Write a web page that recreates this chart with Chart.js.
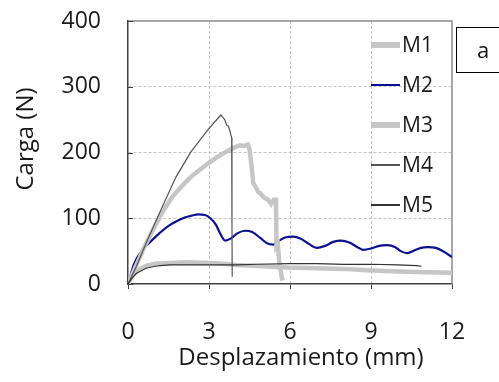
<!DOCTYPE html>
<html>
<head>
<meta charset="utf-8">
<script src="https://cdn.jsdelivr.net/npm/chart.js@4.4.1/dist/chart.umd.min.js"></script>
<style>
  body { margin: 0; background: #fff; }
  #wrap { position: relative; width: 499px; height: 382px; overflow: hidden; }
  #tag {
    position: absolute; left: 456px; top: 27px; width: 60px; height: 46px;
    border: 1px solid #000; box-sizing: border-box;
    font: 22px 'Open Sans'; color: #111; line-height: 42px; padding-left: 20px;
  }
</style>
</head>
<body>
<div id="wrap">
  <canvas id="chart" width="499" height="382"></canvas>
  <div id="tag">a</div>
</div>
<script>
// datos
const seriesNames = ['M1', 'M2', 'M3', 'M4', 'M5'];
const xTicks = [0, 3, 6, 9, 12];
const yTicks = [0, 100, 200, 300, 400];

const m1X = [0, 0.1, 0.2, 0.4, 0.69, 1.0, 1.56, 2.17, 3.0, 3.4, 4.0, 5.0, 5.9, 7.0, 8.0, 8.84, 10.0, 11.0, 12.0];
const m1Y = [0, 8, 14, 22, 28, 31, 32, 33, 32, 31, 29, 27, 25, 24, 23, 21, 19, 18, 17];

const m2X = [0, 0.23, 0.54, 0.8, 1.16, 1.45, 1.78, 2.1, 2.36, 2.6, 2.85, 3.05, 3.26, 3.4, 3.6, 3.8, 4.05, 4.33, 4.6, 4.9, 5.15, 5.38, 5.6, 5.85, 6.1, 6.4, 6.7, 6.99, 7.3, 7.6, 7.9, 8.2, 8.5, 8.7, 9.0, 9.3, 9.6, 9.9, 10.1, 10.35, 10.6, 10.85, 11.1, 11.4, 11.7, 12.0];
const m2Y = [0, 31, 52, 63, 77, 87, 95, 101, 104, 106, 105, 100, 90, 78, 66, 69, 77, 81, 79, 70, 62, 60, 66, 71, 72, 69, 61, 55, 58, 64, 66, 63, 56, 52, 54, 58, 59, 56, 50, 47, 51, 55, 56, 55, 49, 41];

const m3X = [0, 0.3, 0.6, 1.0, 1.28, 1.65, 2.0, 2.33, 2.7, 2.98, 3.3, 3.63, 3.9, 4.15, 4.3, 4.44, 4.5, 4.58, 4.64, 4.7, 4.82, 4.9, 5.0, 5.1, 5.19, 5.3, 5.4, 5.48, 5.5, 5.55, 5.6, 5.69, 5.73];
const m3Y = [0, 28, 56, 88, 110, 133, 149, 163, 175, 184, 193, 201, 207, 211, 210, 212, 205, 178, 153, 150, 140, 138, 133, 130, 128, 122, 128, 128, 57, 60, 35, 11, 5];

const m4X = [0, 0.3, 0.67, 1.22, 1.78, 2.33, 2.95, 3.2, 3.44, 3.52, 3.58, 3.65, 3.72, 3.78, 3.84, 3.85, 3.86];
const m4Y = [0, 26, 62, 113, 163, 201, 234, 246, 257, 253, 250, 242, 240, 232, 222, 100, 11];

const m5X = [0, 0.15, 0.3, 0.67, 1.0, 1.2, 1.56, 2.0, 3.0, 4.0, 4.8, 6.0, 7.0, 8.0, 9.0, 10.0, 10.69, 10.87];
const m5Y = [0, 9, 16, 24, 27, 28, 29, 29, 29, 29, 30, 31, 31, 30, 30, 29, 28, 27];

const pts = (xs, ys) => xs.map((x, i) => ({ x: x, y: ys[i] }));

const FONT = "'Open Sans', sans-serif";

// marco superior/derecho, marcas del eje y, titulos y leyenda
const extras = {
  id: 'extras',
  beforeDatasetsDraw(chart) {
    const { ctx, chartArea: a } = chart;
    ctx.save();
    ctx.strokeStyle = '#8a8a8a';
    ctx.lineWidth = 1.5;
    ctx.beginPath();
    ctx.moveTo(a.left, a.top);
    ctx.lineTo(a.right, a.top);
    ctx.lineTo(a.right, a.bottom);
    ctx.stroke();
    const ys = chart.scales.y;
    ctx.strokeStyle = '#404040';
    ctx.lineWidth = 1;
    yTicks.forEach(v => {
      const py = Math.round(ys.getPixelForValue(v)) + 0.5;
      ctx.beginPath();
      ctx.moveTo(a.left, py);
      ctx.lineTo(a.left + 5, py);
      ctx.stroke();
    });
    ctx.restore();
  },
  afterDatasetsDraw(chart) {
    const { ctx, chartArea: a } = chart;
    ctx.save();
    ctx.fillStyle = '#1a1a1a';
    ctx.font = '24px ' + FONT;
    ctx.textAlign = 'center';
    ctx.textBaseline = 'middle';
    ctx.fillText('Desplazamiento (mm)', a.left + 173, 358);

    ctx.save();
    ctx.translate(26, a.top + 118);
    ctx.rotate(-Math.PI / 2);
    ctx.fillText('Carga (N)', 0, 0);
    ctx.restore();

    ctx.font = '21px ' + FONT;
    ctx.textAlign = 'left';
    chart.data.datasets.forEach((ds, i) => {
      const y = a.top + 24 + i * 40;
      ctx.strokeStyle = ds.borderColor;
      ctx.lineWidth = ds.legendWidth;
      ctx.beginPath();
      ctx.moveTo(a.right - 81, y);
      ctx.lineTo(a.right - 52, y);
      ctx.stroke();
      ctx.fillText(ds.label, a.right - 50, y + 1);
    });
    ctx.restore();
  }
};

new Chart(document.getElementById('chart'), {
  type: 'scatter',
  data: {
    datasets: [
      { label: seriesNames[0], data: pts(m1X, m1Y), borderColor: '#c6c6c6', borderWidth: 4.5, legendWidth: 6, order: 4 },
      { label: seriesNames[1], data: pts(m2X, m2Y), borderColor: '#0c1190', borderWidth: 2.2, legendWidth: 2, cubicInterpolationMode: 'monotone', order: 5 },
      { label: seriesNames[2], data: pts(m3X, m3Y), borderColor: '#c6c6c6', borderWidth: 4.5, legendWidth: 6, order: 3 },
      { label: seriesNames[3], data: pts(m4X, m4Y), borderColor: '#555555', borderWidth: 1.2, legendWidth: 2, order: 2 },
      { label: seriesNames[4], data: pts(m5X, m5Y), borderColor: '#333333', borderWidth: 1.2, legendWidth: 2, order: 1 }
    ].map(d => Object.assign({ showLine: true, pointRadius: 0, fill: false }, d))
  },
  options: {
    responsive: false,
    animation: false,
    layout: { padding: { left: 0, top: 21, right: 47, bottom: 0 } },
    plugins: { legend: { display: false }, tooltip: { enabled: false } },
    scales: {
      x: {
        type: 'linear', min: 0, max: 12,
        afterBuildTicks: s => { s.ticks = xTicks.map(v => ({ value: v })); },
        afterFit: s => { s.height = 98; s.paddingLeft = 0; s.paddingRight = 0; },
        ticks: { color: '#1a1a1a', font: { family: FONT, size: 23 }, padding: 30, maxRotation: 0 },
        grid: {
          color: c => (c.tick && (c.tick.value === 0 || c.tick.value === 12)) ? 'rgba(0,0,0,0)' : '#c4c4c4',
          lineWidth: 1, tickLength: 5, tickColor: '#404040', tickBorderDash: [], tickWidth: 1
        },
        border: { color: '#404040', width: 1.5, dash: [3, 2] }
      },
      y: {
        type: 'linear', min: 0, max: 400,
        afterBuildTicks: s => { s.ticks = yTicks.map(v => ({ value: v })); },
        afterFit: s => { s.width = 128; s.paddingTop = 0; s.paddingBottom = 0; },
        ticks: { color: '#1a1a1a', font: { family: FONT, size: 23 }, padding: 27 },
        grid: {
          color: c => (c.tick && (c.tick.value === 0 || c.tick.value === 400)) ? 'rgba(0,0,0,0)' : '#c4c4c4',
          lineWidth: 1, drawTicks: false
        },
        border: { color: '#404040', width: 1.5, dash: [3, 2] }
      }
    }
  },
  plugins: [extras]
});
</script>
</body>
</html>
